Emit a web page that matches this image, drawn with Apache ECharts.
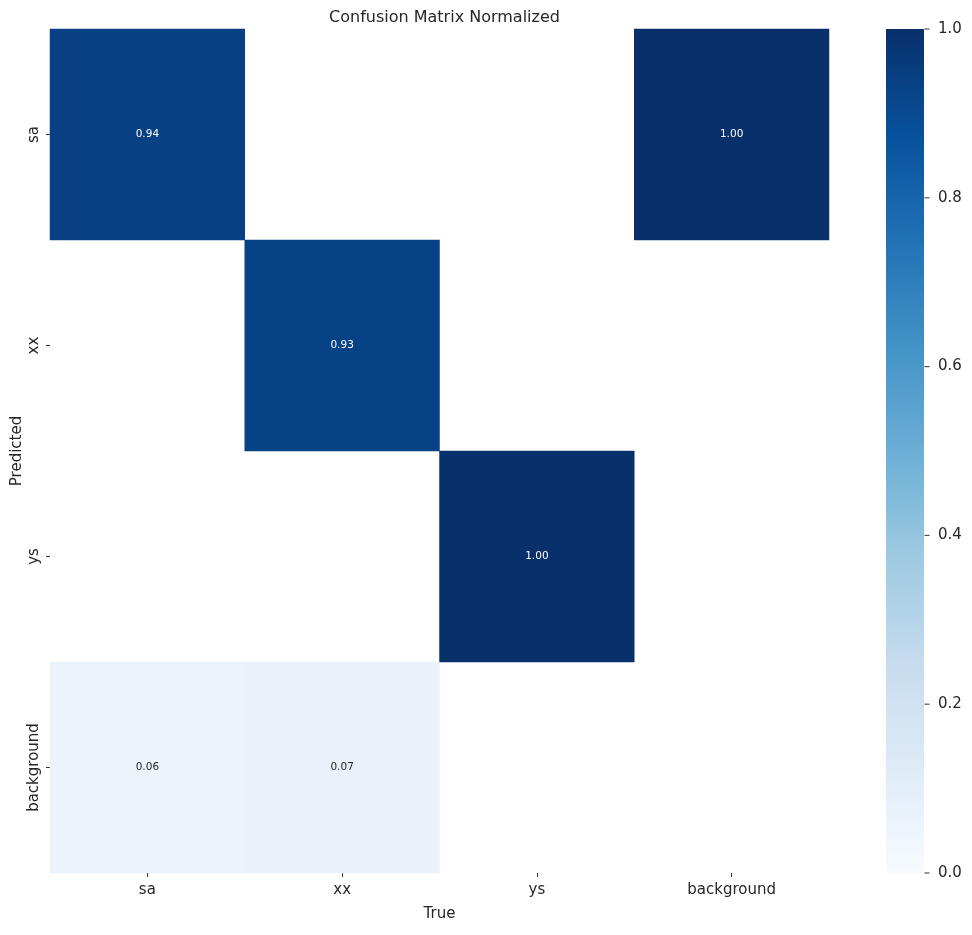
<!DOCTYPE html>
<html>
<head>
<meta charset="utf-8">
<script src="https://cdn.jsdelivr.net/npm/echarts@6/dist/echarts.min.js"></script>
<style>
html,body{margin:0;padding:0;background:#fff;}
#chart{width:972px;height:935px;}
</style>
</head>
<body>
<div id="chart"></div>
<script>
var categories = ['sa', 'xx', 'ys', 'background'];
// rows = Predicted, columns = True (null = empty cell)
var rowSa = [0.94, null, null, 1.00];
var rowXx = [null, 0.93, null, null];
var rowYs = [null, null, 1.00, null];
var rowBackground = [0.06, 0.07, null, null];
var colorbarTicks = [0, 0.2, 0.4, 0.6, 0.8, 1.0];
var blues = ['#f7fbff', '#deebf7', '#c6dbef', '#9ecae1', '#6baed6', '#4292c6', '#2171b5', '#08519c', '#08306b'];

var rows = [rowSa, rowXx, rowYs, rowBackground];
var data = [];
rows.forEach(function (row, yi) {
  row.forEach(function (v, xi) {
    if (v === null) return;
    data.push({
      value: [xi, yi, v],
      label: { color: v > 0.5 ? '#ffffff' : '#262626' }
    });
  });
});

// colour bar tick marks, one per tick value, placed through the colour-bar axis
var tickMarks = colorbarTicks.map(function (v) { return [0, v]; });

// colour bar gradient built from the colormap stops (bottom = 0, top = 1)
var gradientStops = blues.map(function (c, i) {
  return { offset: 1 - i / (blues.length - 1), color: c };
}).reverse();

var FONT = 'DejaVu Sans';
var chart = echarts.init(document.getElementById('chart'));
chart.setOption({
  backgroundColor: '#ffffff',
  animation: false,
  textStyle: { fontFamily: FONT },
  title: {
    text: 'Confusion Matrix Normalized',
    left: 439.5,
    textAlign: 'center',
    top: 5,
    textStyle: { fontFamily: FONT, fontSize: 16, fontWeight: 'normal', color: '#262626' }
  },
  grid: [
    { left: 50, top: 29, width: 779, height: 844, containLabel: false, outerBoundsMode: 'none' },
    { left: 924, top: 29, width: 1, height: 844, containLabel: false, outerBoundsMode: 'none' }
  ],
  graphic: [
    {
      type: 'rect',
      left: 886,
      top: 29,
      shape: { width: 38, height: 844 },
      style: {
        fill: new echarts.graphic.LinearGradient(0, 0, 0, 1, gradientStops)
      },
      silent: true,
      z: -1
    }
  ],
  xAxis: [
    {
      type: 'category',
      gridIndex: 0,
      data: categories,
      name: 'True',
      nameLocation: 'middle',
      nameGap: 34,
      nameTextStyle: { fontFamily: FONT, fontSize: 15, color: '#262626' },
      axisLine: { show: false },
      axisTick: { show: true, alignWithLabel: true, length: 4, lineStyle: { color: '#333' } },
      axisLabel: { fontFamily: FONT, fontSize: 15, color: '#262626', margin: 10 },
      splitLine: { show: false }
    },
    {
      type: 'value',
      gridIndex: 1,
      show: false,
      min: 0,
      max: 1,
      axisLine: { show: false },
      axisTick: { show: false },
      axisLabel: { show: false },
      splitLine: { show: false }
    }
  ],
  yAxis: [
    {
      type: 'category',
      gridIndex: 0,
      data: categories,
      inverse: true,
      name: 'Predicted',
      nameLocation: 'middle',
      nameGap: 25,
      nameRotate: 90,
      nameMoveOverlap: false,
      nameTextStyle: { fontFamily: FONT, fontSize: 15, color: '#262626' },
      axisLine: { show: false },
      axisTick: { show: true, alignWithLabel: true, length: 4, lineStyle: { color: '#333' } },
      axisLabel: { fontFamily: FONT, fontSize: 15, color: '#262626', rotate: 90, margin: 8 },
      splitLine: { show: false }
    },
    {
      type: 'value',
      gridIndex: 1,
      position: 'right',
      min: colorbarTicks[0],
      max: colorbarTicks[colorbarTicks.length - 1],
      interval: 0.2,
      axisLine: { show: false },
      axisTick: { show: false },
      axisLabel: {
        fontFamily: FONT, fontSize: 15, color: '#262626', margin: 13,
        formatter: function (v) { return v.toFixed(1); }
      },
      splitLine: { show: false }
    }
  ],
  visualMap: {
    type: 'continuous',
    show: false,
    min: 0,
    max: 1,
    seriesIndex: 0,
    inRange: { color: blues }
  },
  series: [
    {
      type: 'heatmap',
      xAxisIndex: 0,
      yAxisIndex: 0,
      data: data,
      label: {
        show: true,
        fontFamily: FONT,
        fontSize: 10.5,
        formatter: function (p) { return p.value[2].toFixed(2); }
      },
      itemStyle: { borderWidth: 0 },
      emphasis: { disabled: true }
    },
    {
      type: 'scatter',
      xAxisIndex: 1,
      yAxisIndex: 1,
      data: tickMarks,
      symbol: 'rect',
      symbolSize: [5, 1.2],
      symbolOffset: [3, 0],
      clip: false,
      silent: true,
      itemStyle: { color: '#262626' },
      emphasis: { disabled: true },
      z: 5
    }
  ]
});
</script>
</body>
</html>
